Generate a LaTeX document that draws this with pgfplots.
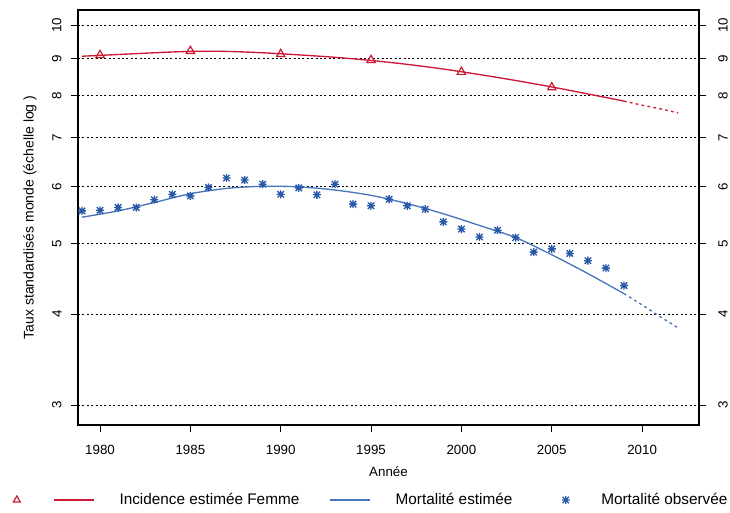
\documentclass[border=0pt]{standalone}
\usepackage{fontspec}
\setmainfont{Liberation Sans}
\usepackage{pgfplots}
\pgfplotsset{compat=1.18}
\definecolor{incred}{RGB}{204,24,52}
\definecolor{mortline}{RGB}{72,118,190}
\definecolor{mortpt}{RGB}{40,88,168}
\pgfdeclareplotmark{rstar}{%
 \pgfpathmoveto{\pgfqpoint{-\pgfplotmarksize}{0pt}}\pgfpathlineto{\pgfqpoint{\pgfplotmarksize}{0pt}}%
 \pgfpathmoveto{\pgfqpoint{0pt}{-\pgfplotmarksize}}\pgfpathlineto{\pgfqpoint{0pt}{\pgfplotmarksize}}%
 \pgfpathmoveto{\pgfqpoint{-.8\pgfplotmarksize}{-.8\pgfplotmarksize}}\pgfpathlineto{\pgfqpoint{.8\pgfplotmarksize}{.8\pgfplotmarksize}}%
 \pgfpathmoveto{\pgfqpoint{-.8\pgfplotmarksize}{.8\pgfplotmarksize}}\pgfpathlineto{\pgfqpoint{.8\pgfplotmarksize}{-.8\pgfplotmarksize}}%
 \pgfusepathqstroke}
\begin{document}
\begin{tikzpicture}
\path[use as bounding box] (-58.5pt,-65.25pt) rectangle (489pt,318.75pt);
\begin{axis}[
  at={(0pt,0pt)}, anchor=south west,
  scale only axis, width=465.75pt, height=311.25pt,
  xmin=1978.78, xmax=2013.15, ymode=log, ymin=2.816, ymax=10.49,
  ytick={3,4,5,6,7,8,9,10}, yticklabels={3,4,5,6,7,8,9,10}, minor ytick={},
  tick align=outside, major tick length=5pt,
  tick style={black, line width=0.6pt},
  /pgf/number format/assume math mode=true,
  ticklabel style={font=\fontsize{10}{12}\selectfont},
  xtick={1980,1985,...,2010}, xtick pos=left, ytick pos=left,
  xticklabel style={/pgf/number format/1000 sep={}},
  xticklabel shift=6.5pt,
  yticklabel style={rotate=90, anchor=south},
  yticklabel shift=3.75pt,
  ymajorgrids, major grid style={black, line width=0.6pt, dash pattern=on 1.5pt off 1.8pt},
  axis line style={black, line width=0.8pt},
  xlabel={Année}, ylabel={Taux standardisés monde (échelle log )},
  xlabel style={at={(axis description cs:0.5,-0.1133)}, anchor=center, font=\fontsize{10}{12}\selectfont},
  ylabel style={at={(axis description cs:-0.0773,0.5)}, anchor=center, font=\fontsize{10.5}{12}\selectfont},
  legend columns=3,
  legend style={at={(axis description cs:-0.104,-0.1807)}, anchor=west, draw=none, fill=none,
    inner sep=0pt, outer sep=0pt, font=\fontsize{11.5}{13}\selectfont,
    nodes={inner sep=0pt},
    /tikz/every odd column/.append style={column sep=18.75pt},
    /tikz/every even column/.append style={column sep=0pt}},
]
% Incidence estimated (solid)
\addplot[incred, line width=1pt, smooth, forget plot] coordinates {
(1979,9.06) (1981,9.11) (1983,9.16) (1985,9.20) (1987,9.20) (1989,9.16) (1991,9.10)
(1993,9.03) (1995,8.94) (1997,8.83) (1999,8.70) (2001,8.55) (2003,8.39) (2005,8.22)
(2007,8.04) (2009,7.86)};
% Incidence projection (dashed)
\addplot[incred, line width=1pt, dash pattern=on 2pt off 2.5pt, smooth, forget plot] coordinates {
(2009,7.86) (2010,7.76) (2011,7.67) (2012,7.57)};
% Incidence triangles
\addplot[incred, only marks, mark=triangle, mark size=3.6pt, line width=0.9pt, forget plot] coordinates {
(1980,9.09) (1985,9.21) (1990,9.12) (1995,8.95) (2000,8.62) (2005,8.21)};
% Mortality estimated
\addplot[mortline, line width=1pt, smooth, forget plot] coordinates {
(1979,5.44) (1981,5.55) (1983,5.70) (1985,5.86) (1987,5.96) (1989,6.00) (1991,5.99)
(1993,5.93) (1995,5.83) (1997,5.68) (1999,5.50) (2001,5.30) (2003,5.10) (2005,4.83)
(2007,4.55) (2009,4.27)};
\addplot[mortline, line width=1pt, dash pattern=on 2pt off 2.5pt, smooth, forget plot] coordinates {
(2009,4.27) (2010,4.12) (2011,3.97) (2012,3.83)};
% Mortality observed
\addplot[mortpt, only marks, mark=rstar, mark size=3pt, line width=1pt, forget plot] coordinates {
(1979,5.55) (1980,5.56) (1981,5.61) (1982,5.61) (1983,5.75) (1984,5.85) (1985,5.82)
(1986,5.98) (1987,6.16) (1988,6.12) (1989,6.04) (1990,5.85) (1991,5.97) (1992,5.84)
(1993,6.04) (1994,5.67) (1995,5.64) (1996,5.76) (1997,5.64) (1998,5.58) (1999,5.36)
(2000,5.24) (2001,5.11) (2002,5.22) (2003,5.10) (2004,4.87) (2005,4.92) (2006,4.85)
(2007,4.74) (2008,4.63) (2009,4.38)};
% Legend
\addlegendimage{legend image code/.code={
  \draw[incred, line width=1pt] (27.75pt,0pt) -- (57.75pt,0pt);
  \draw[incred, line width=0.9pt] plot[mark=triangle, mark size=3pt] coordinates {(0pt,0pt)};}}
\addlegendentry{Incidence estimée Femme\hspace*{22.5pt}\null}
\addlegendimage{legend image code/.code={
  \draw[mortline, line width=1pt] (0pt,0pt) -- (30pt,0pt);}}
\addlegendentry{Mortalité estimée\hspace*{37pt}\null}
\addlegendimage{legend image code/.code={
  \path[draw=none] (0pt,0pt) -- (7.9pt,0pt);
  \draw[mortpt, line width=0.9pt] plot[mark=rstar, mark size=3pt] coordinates {(0pt,0pt)};}}
\addlegendentry{Mortalité observée}
\end{axis}
\begin{axis}[
  at={(0pt,0pt)}, anchor=south west,
  scale only axis, width=465.75pt, height=311.25pt,
  xmin=1978.78, xmax=2013.15, ymode=log, ymin=2.816, ymax=10.49,
  ytick={3,4,5,6,7,8,9,10}, yticklabels={3,4,5,6,7,8,9,10}, minor ytick={},
  tick align=outside, major tick length=5pt,
  tick style={black, line width=0.6pt},
  /pgf/number format/assume math mode=true,
  ticklabel style={font=\fontsize{10}{12}\selectfont},
  hide x axis, axis y line*=right,
  yticklabel style={rotate=90, anchor=north},
  yticklabel shift=6pt,
  axis line style={black, line width=0.8pt},
]
\addplot[draw=none, forget plot] coordinates {(1990,5)};
\end{axis}
\end{tikzpicture}
\end{document}
